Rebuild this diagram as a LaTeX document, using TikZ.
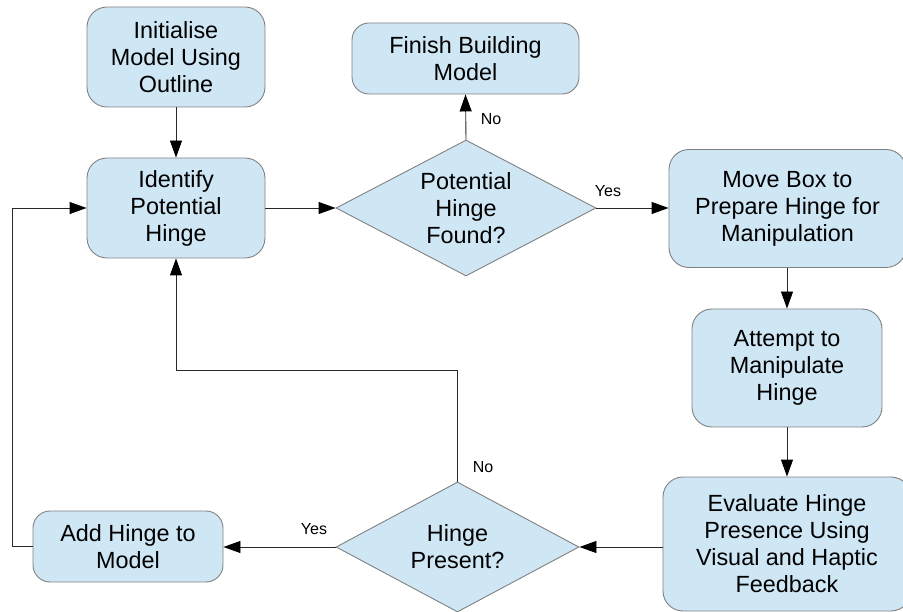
\documentclass[tikz,border=0pt]{standalone}
\usepackage{fontspec}
\setmainfont{Liberation Sans}
\usetikzlibrary{shapes.geometric,arrows.meta}
\definecolor{boxfill}{RGB}{207,231,245}
\definecolor{boxline}{RGB}{128,128,128}
\definecolor{wire}{RGB}{40,40,40}
\begin{document}
\begin{tikzpicture}[x=1pt,y=-1pt,
  stepbox/.style={draw=boxline, fill=boxfill, rounded corners=20pt, line width=0.9pt,
    inner sep=0pt, align=center, font=\fontsize{23.4}{27}\selectfont},
  choice/.style={draw=boxline, fill=boxfill, diamond, line width=0.9pt, inner sep=0pt},
  choicetext/.style={align=center, font=\fontsize{23.4}{27}\selectfont},
  flow/.style={draw=wire, line width=0.9pt,
    -{Triangle[length=17pt,width=12pt,color=black]}},
  tag/.style={font=\fontsize{16}{18}\selectfont, inner sep=0pt}
]
\useasboundingbox (0,0) rectangle (903,612);
\clip (0,0) rectangle (903,612);

% process boxes
\node[stepbox, minimum width=178pt, minimum height=100pt] (init) at (176,57)
  {Initialise\\Model Using\\Outline};
\node[stepbox, minimum width=178pt, minimum height=100pt] (ident) at (176,208)
  {Identify\\Potential\\Hinge};
\node[stepbox, rounded corners=17pt, minimum width=227pt, minimum height=71pt] (finish) at (465.5,58.5)
  {Finish Building\\Model};
\node[stepbox, minimum width=237pt, minimum height=118pt] (move) at (787.5,208.5)
  {Move Box to\\Prepare Hinge for\\Manipulation};
\node[stepbox, minimum width=190pt, minimum height=118pt] (attempt) at (787,368)
  {Attempt to\\Manipulate\\Hinge};
\node[stepbox, minimum width=248pt, minimum height=134pt] (eval) at (787,544)
  {Evaluate Hinge\\Presence Using\\Visual and Haptic\\Feedback};
\node[stepbox, rounded corners=17pt, minimum width=190pt, minimum height=71pt] (add) at (128,546.5)
  {Add Hinge to\\Model};

% decisions
\node[choice, minimum width=260pt, minimum height=136pt] (found) at (466,208) {};
\node[choicetext] (foundtext) at (found.center) {Potential\\Hinge\\Found?};
\node[choice, minimum width=243pt, minimum height=130pt] (present) at (457.5,547) {};
\node[choicetext] (presenttext) at (present.center) {Hinge\\Present?};

% connectors
\draw[flow] (init.south) -- (ident.north);
\draw[flow] (ident.east) -- (found.west);
\draw[flow] (found.north) -- (finish.south);
\draw[flow] (found.east) -- (move.west |- found.east);
\draw[flow] (attempt.north |- move.south) -- (attempt.north);
\draw[flow] (attempt.south) -- (attempt.south |- eval.north);
\draw[flow] (eval.west |- present.east) -- (present.east);
\draw[flow] (present.west) -- (add.east |- present.west);
\coordinate (loopA) at (457.5,370);
\coordinate (loopB) at (176,370);
\draw[flow] (present.north) -- (loopA) -- (loopB) -- (ident.south);
\coordinate (backA) at (12,546.5);
\coordinate (backB) at (12,208);
\draw[flow] (add.west) -- (backA) -- (backB) -- (ident.west);

% branch labels
\node[tag] (noup) at (491,119) {No};
\node[tag] (yesright) at (608,191) {Yes};
\node[tag] (yesleft) at (314,529) {Yes};
\node[tag] (noback) at (483,467) {No};
\end{tikzpicture}
\end{document}
